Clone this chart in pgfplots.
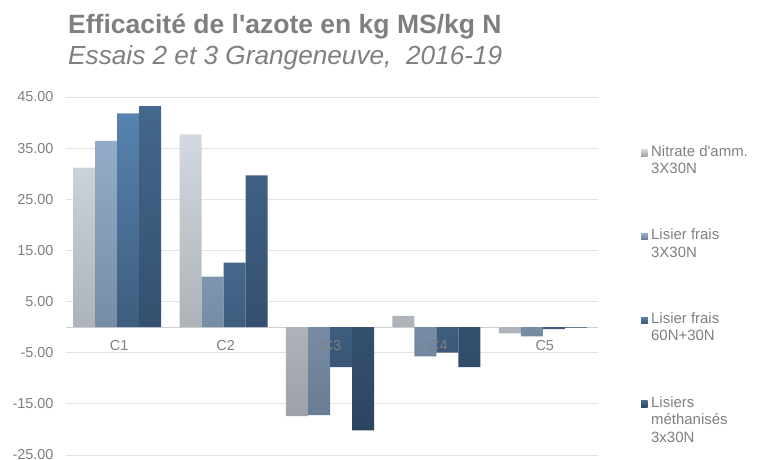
\documentclass[border=0pt]{standalone}
\usepackage{fontspec}
\setmainfont{Liberation Sans}
\usepackage{pgfplots}
\pgfplotsset{compat=1.18}
\definecolor{txt}{HTML}{7F7F7F}
\definecolor{gridc}{HTML}{E3E3E3}
\definecolor{zeroc}{HTML}{D0D0D0}
\definecolor{b1t}{HTML}{D2D8DF}\definecolor{b1b}{HTML}{9DA2A8}
\definecolor{b2t}{HTML}{93ADC8}\definecolor{b2b}{HTML}{687D94}
\definecolor{b3t}{HTML}{5783AF}\definecolor{b3b}{HTML}{3A5676}
\definecolor{b4t}{HTML}{44678D}\definecolor{b4b}{HTML}{2D4560}
\definecolor{l1}{HTML}{B8BDC3}\definecolor{l2}{HTML}{7F96B0}
\definecolor{l3}{HTML}{4B7099}\definecolor{l4}{HTML}{38547A}
\begin{document}
\begin{tikzpicture}
\node[anchor=base west, inner sep=0, text=txt, font=\fontsize{26.6}{30}\selectfont\bfseries] at (2bp,421bp) {Efficacité de l\textquotesingle azote en kg MS/kg N};
\node[anchor=base west, inner sep=0, text=txt, font=\fontsize{26.3}{30}\selectfont\itshape] at (2bp,390bp) {Essais 2 et 3 Grangeneuve,~ 2016-19};
\begin{axis}[
  at={(0,0)}, anchor=south west,
  scale only axis, width=532bp, height=358bp,
  xmin=-0.5, xmax=4.5, ymin=-25, ymax=45,
  ybar=0pt, bar width=22bp,
  axis x line*=middle, axis y line*=left,
  y axis line style={draw=none},
  x axis line style={draw=zeroc, line width=0.8bp},
  xtick={0,1,2,3,4}, xticklabels={},
  ytick={-25,-15,...,45},
  ymajorgrids, grid style={draw=gridc, line width=0.8bp},
  major tick length=0pt,
  tick label style={font=\fontsize{14.5}{17}\selectfont, text=txt},
  yticklabel style={/pgf/number format/.cd, fixed, fixed zerofill, precision=2, assume math mode=true, /tikz/.cd, xshift=-9bp},
  clip=false,
  legend style={at={(1.0808,0.8694)}, anchor=north west, draw=none, fill=none, inner sep=0pt,
    row sep=70bp, font=\fontsize{15}{17.5}\selectfont, text=txt,
    cells={anchor=base west}, nodes={inner xsep=3.5bp, inner ysep=0pt}},
]
\addplot[bar shift=-35bp, draw=none, top color=b1t, bottom color=b1b,
  legend image code/.code={\fill[l1] (0bp,0bp) rectangle (6.5bp,6.5bp);}]
  coordinates {(0,31.2) (1,37.7) (2,-17.4) (3,2.2) (4,-1.2)};
\addlegendentry{\begin{tabular}[t]{@{}l@{}}Nitrate d\textquotesingle amm.\\3X30N\end{tabular}}
\addplot[bar shift=-13bp, draw=none, top color=b2t, bottom color=b2b,
  legend image code/.code={\fill[l2] (0bp,0bp) rectangle (6.5bp,6.5bp);}]
  coordinates {(0,36.4) (1,9.9) (2,-17.2) (3,-5.7) (4,-1.8)};
\addlegendentry{\begin{tabular}[t]{@{}l@{}}Lisier frais\\3X30N\end{tabular}}
\addplot[bar shift=9bp, draw=none, top color=b3t, bottom color=b3b,
  legend image code/.code={\fill[l3] (0bp,0bp) rectangle (6.5bp,6.5bp);}]
  coordinates {(0,41.8) (1,12.6) (2,-7.8) (3,-5.0) (4,-0.4)};
\addlegendentry{\begin{tabular}[t]{@{}l@{}}Lisier frais\\60N+30N\end{tabular}}
\addplot[bar shift=31bp, draw=none, top color=b4t, bottom color=b4b,
  legend image code/.code={\fill[l4] (0bp,0bp) rectangle (6.5bp,6.5bp);}]
  coordinates {(0,43.2) (1,29.7) (2,-20.2) (3,-7.8) (4,-0.1)};
\addlegendentry{\begin{tabular}[t]{@{}l@{}}Lisiers\\méthanisés\\3x30N\end{tabular}}
\foreach \i/\lab in {0/C1,1/C2,2/C3,3/C4,4/C5}{
  \edef\tmp{\noexpand\node[anchor=base, inner sep=0, text=txt, font=\noexpand\fontsize{14.5}{17}\noexpand\selectfont, yshift=-23.5bp] at (axis cs:\i,0) {\lab};}
  \tmp
}
\end{axis}
\pgfresetboundingbox
\useasboundingbox (-66bp,-5bp) rectangle (691bp,455bp);
\end{tikzpicture}
\end{document}
